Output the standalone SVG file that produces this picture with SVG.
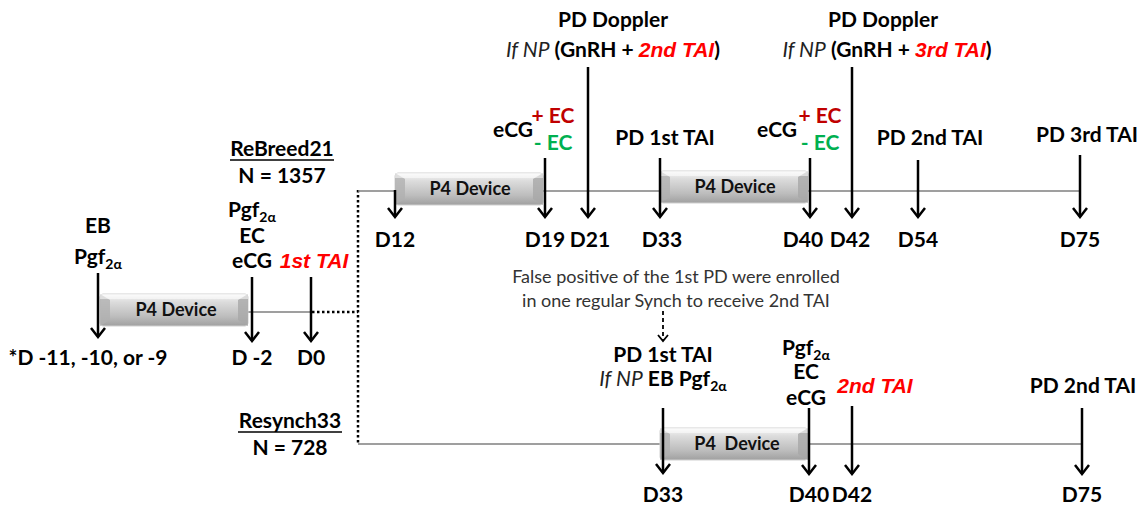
<svg xmlns="http://www.w3.org/2000/svg" width="1142" height="508" viewBox="0 0 1142 508">
<defs>
<style>
text{font-family:Lato,"Liberation Sans",sans-serif;font-weight:bold;font-size:21px;fill:#000;text-anchor:middle}
.i{font-style:italic;font-weight:normal;fill:#222}
.red{fill:#ff0000;font-style:italic;font-weight:bold;font-family:"Liberation Sans",Arial,sans-serif}
.pe{fill:#c00000}
.me{fill:#00b050}
.sm{font-size:14px}
.dev{font-size:18px;fill:#111}
.fp{font-weight:normal;font-size:18px;fill:#333}
.arr{stroke:#000;stroke-width:2.5;fill:none;marker-end:url(#ah)}
.thin{stroke:#7f7f7f;stroke-width:1.3;fill:none}
.dot{stroke:#000;stroke-width:2.5;stroke-dasharray:2.5 2.5;fill:none}
</style>
<marker id="ah" markerUnits="userSpaceOnUse" viewBox="-10 -8 12 16" refX="0" refY="0" markerWidth="12" markerHeight="16" orient="auto">
<path d="M-9,-7 L0,0 L-9,7" fill="none" stroke="#000" stroke-width="2.5"/>
</marker>
<marker id="ahs" markerUnits="userSpaceOnUse" viewBox="-8 -6 10 12" refX="0" refY="0" markerWidth="10" markerHeight="12" orient="auto">
<path d="M-6,-5 L0,0 L-6,5" fill="none" stroke="#000" stroke-width="1.8"/>
</marker>
<linearGradient id="g" x1="0" y1="0" x2="0" y2="1">
<stop offset="0" stop-color="#f7f7f7"/>
<stop offset="0.25" stop-color="#dcdcdc"/>
<stop offset="0.7" stop-color="#bdbdbd"/>
<stop offset="1" stop-color="#a0a0a0"/>
</linearGradient>
<g id="box">
<rect x="0" y="0" width="148" height="32" rx="3" fill="url(#g)" stroke="#d0d0d0" stroke-width="1"/>
<polygon points="0,0 10,6 10,26 0,32" fill="#b0b0b0" opacity="0.8"/>
<polygon points="148,0 138,6 138,26 148,32" fill="#a8a8a8" opacity="0.8"/>
<rect x="0" y="0" width="148" height="5" fill="#ffffff" opacity="0.5"/>
</g>
</defs>
<rect width="1142" height="508" fill="#fff"/>

<g id="connectors">
<line class="thin" x1="248" y1="312" x2="312" y2="312"/>
<polyline class="dot" points="312,312 358,312"/>
<polyline class="dot" points="358,190 358,444"/>
<line class="thin" x1="358" y1="191" x2="1080" y2="191"/>
<line class="thin" x1="358" y1="444" x2="1082" y2="444"/>
</g>

<g id="dev1"><use href="#box" x="100" y="294"/><text class="dev" x="176" y="316">P4 Device</text></g>
<g id="dev2"><use href="#box" x="395" y="173"/><text class="dev" x="470" y="195">P4 Device</text></g>
<g id="dev3"><use href="#box" x="660" y="171"/><text class="dev" x="735" y="193">P4 Device</text></g>
<g id="dev4"><use href="#box" x="660" y="428"/><text class="dev" x="737" y="450" xml:space="preserve">P4  Device</text></g>

<g id="arrows">
<line class="arr" x1="98" y1="273" x2="98" y2="337"/>
<line class="arr" x1="252" y1="277" x2="252" y2="341"/>
<line class="arr" x1="311" y1="277" x2="311" y2="341"/>
<line class="arr" x1="395" y1="190" x2="395" y2="217"/>
<line class="arr" x1="545" y1="158" x2="545" y2="217"/>
<line class="arr" x1="588" y1="67" x2="588" y2="217"/>
<line class="arr" x1="660" y1="158" x2="660" y2="217"/>
<line class="arr" x1="810" y1="158" x2="810" y2="217"/>
<line class="arr" x1="852" y1="67" x2="852" y2="217"/>
<line class="arr" x1="918" y1="160" x2="918" y2="217"/>
<line class="arr" x1="1080" y1="155" x2="1080" y2="217"/>
<line class="arr" x1="663" y1="408" x2="663" y2="473"/>
<line class="arr" x1="809" y1="408" x2="809" y2="474"/>
<line class="arr" x1="852" y1="406" x2="852" y2="474"/>
<line class="arr" x1="1082" y1="408" x2="1082" y2="474"/>
<line x1="663" y1="311" x2="663" y2="341" stroke="#000" stroke-width="1.8" stroke-dasharray="4 3" marker-end="url(#ahs)"/>
</g>

<g id="left">
<text x="98" y="233">EB</text>
<text x="98" y="264">Pgf<tspan class="sm" dy="5">2α</tspan></text>
<text x="88" y="365">*D -11, -10, or -9</text>
<text x="282" y="156">ReBreed21</text>
<line x1="230" y1="160" x2="334" y2="160" stroke="#000" stroke-width="1.6"/>
<text x="282" y="183">N = 1357</text>
<text x="252" y="217">Pgf<tspan class="sm" dy="5">2α</tspan></text>
<text x="252" y="243">EC</text>
<text x="252" y="268">eCG</text>
<text class="red" x="314" y="268">1st TAI</text>
<text x="252" y="365">D -2</text>
<text x="311" y="365">D0</text>
</g>

<g id="top">
<text x="613" y="27">PD Doppler</text>
<text x="613" y="57"><tspan class="i">If NP</tspan> (GnRH + <tspan class="red">2nd TAI</tspan>)</text>
<text x="513" y="137">eCG</text>
<text class="pe" x="553" y="123">+ EC</text>
<text class="me" x="553" y="150">- EC</text>
<text x="665" y="145">PD 1st TAI</text>
<text x="883" y="27">PD Doppler</text>
<text x="887" y="57"><tspan class="i">If NP</tspan> (GnRH + <tspan class="red">3rd TAI</tspan>)</text>
<text x="777" y="137">eCG</text>
<text class="pe" x="820" y="123">+ EC</text>
<text class="me" x="820" y="150">- EC</text>
<text x="930" y="145">PD 2nd TAI</text>
<text x="1087" y="142">PD 3rd TAI</text>
<text x="395" y="247">D12</text>
<text x="545" y="247">D19</text>
<text x="590" y="247">D21</text>
<text x="662" y="247">D33</text>
<text x="803" y="247">D40</text>
<text x="850" y="247">D42</text>
<text x="918" y="247">D54</text>
<text x="1080" y="247">D75</text>
</g>

<g id="note">
<text class="fp" x="676" y="283">False positive of the 1st PD were enrolled</text>
<text class="fp" x="676" y="307">in one regular Synch to receive 2nd TAI</text>
</g>

<g id="bottom">
<text x="663" y="362">PD 1st TAI</text>
<text x="663" y="386"><tspan class="i">If NP</tspan> EB Pgf<tspan class="sm" dy="5">2α</tspan></text>
<text x="290" y="428">Resynch33</text>
<line x1="238" y1="432" x2="342" y2="432" stroke="#000" stroke-width="1.6"/>
<text x="290" y="455">N = 728</text>
<text x="806" y="355">Pgf<tspan class="sm" dy="5">2α</tspan></text>
<text x="806" y="379">EC</text>
<text x="806" y="405">eCG</text>
<text class="red" x="875" y="393">2nd TAI</text>
<text x="1083" y="393">PD 2nd TAI</text>
<text x="663" y="502">D33</text>
<text x="809" y="502">D40</text>
<text x="852" y="502">D42</text>
<text x="1082" y="502">D75</text>
</g>
</svg>
